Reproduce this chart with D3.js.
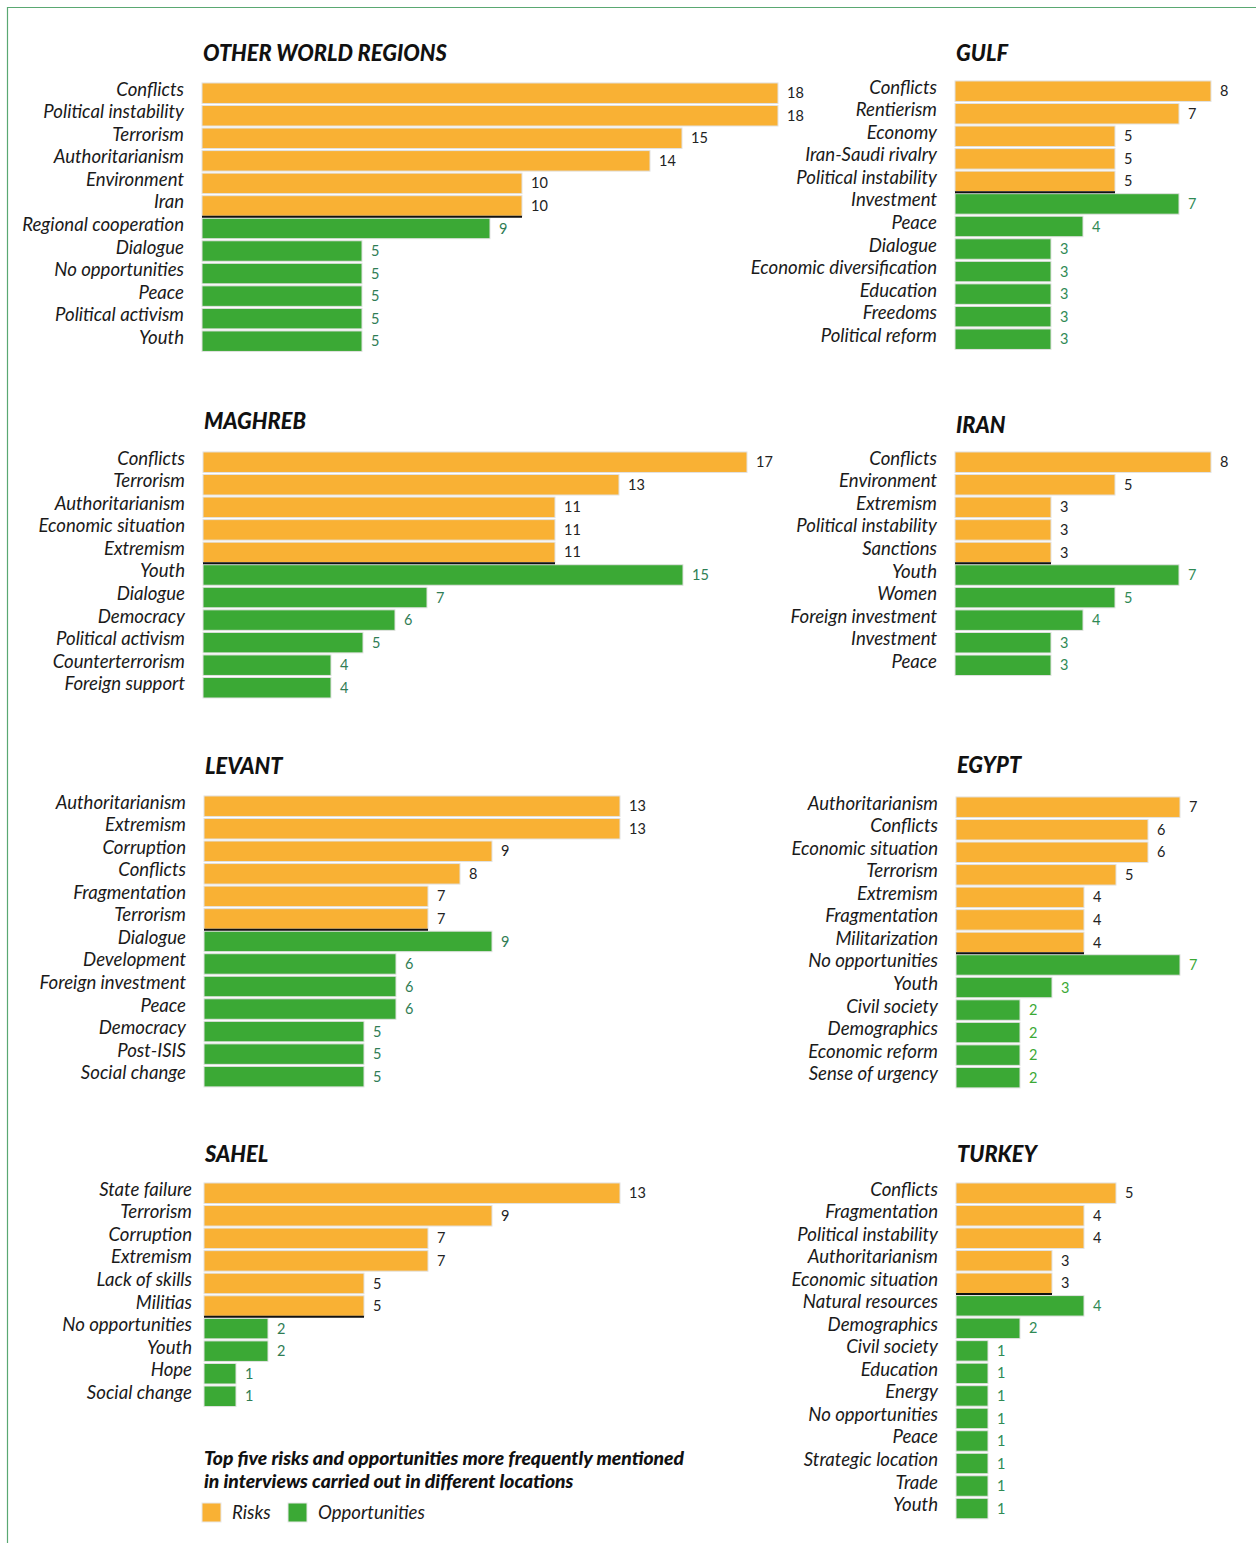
<!DOCTYPE html>
<html><head><meta charset="utf-8">
<script src="https://cdn.jsdelivr.net/npm/d3@7"></script>
<style>
html,body{margin:0;padding:0;background:#fff;}
svg{display:block;}
</style></head>
<body>
<script>
// ---------- DATA ----------
const owrRiskLabels = ["Conflicts","Political instability","Terrorism","Authoritarianism","Environment","Iran"];
const owrRiskValues = [18,18,15,14,10,10];
const owrOppLabels  = ["Regional cooperation","Dialogue","No opportunities","Peace","Political activism","Youth"];
const owrOppValues  = [9,5,5,5,5,5];

const gulfRiskLabels = ["Conflicts","Rentierism","Economy","Iran-Saudi rivalry","Political instability"];
const gulfRiskValues = [8,7,5,5,5];
const gulfOppLabels  = ["Investment","Peace","Dialogue","Economic diversification","Education","Freedoms","Political reform"];
const gulfOppValues  = [7,4,3,3,3,3,3];

const maghrebRiskLabels = ["Conflicts","Terrorism","Authoritarianism","Economic situation","Extremism"];
const maghrebRiskValues = [17,13,11,11,11];
const maghrebOppLabels  = ["Youth","Dialogue","Democracy","Political activism","Counterterrorism","Foreign support"];
const maghrebOppValues  = [15,7,6,5,4,4];

const iranRiskLabels = ["Conflicts","Environment","Extremism","Political instability","Sanctions"];
const iranRiskValues = [8,5,3,3,3];
const iranOppLabels  = ["Youth","Women","Foreign investment","Investment","Peace"];
const iranOppValues  = [7,5,4,3,3];

const levantRiskLabels = ["Authoritarianism","Extremism","Corruption","Conflicts","Fragmentation","Terrorism"];
const levantRiskValues = [13,13,9,8,7,7];
const levantOppLabels  = ["Dialogue","Development","Foreign investment","Peace","Democracy","Post-ISIS","Social change"];
const levantOppValues  = [9,6,6,6,5,5,5];

const egyptRiskLabels = ["Authoritarianism","Conflicts","Economic situation","Terrorism","Extremism","Fragmentation","Militarization"];
const egyptRiskValues = [7,6,6,5,4,4,4];
const egyptOppLabels  = ["No opportunities","Youth","Civil society","Demographics","Economic reform","Sense of urgency"];
const egyptOppValues  = [7,3,2,2,2,2];

const sahelRiskLabels = ["State failure","Terrorism","Corruption","Extremism","Lack of skills","Militias"];
const sahelRiskValues = [13,9,7,7,5,5];
const sahelOppLabels  = ["No opportunities","Youth","Hope","Social change"];
const sahelOppValues  = [2,2,1,1];

const turkeyRiskLabels = ["Conflicts","Fragmentation","Political instability","Authoritarianism","Economic situation"];
const turkeyRiskValues = [5,4,4,3,3];
const turkeyOppLabels  = ["Natural resources","Demographics","Civil society","Education","Energy","No opportunities","Peace","Strategic location","Trade","Youth"];
const turkeyOppValues  = [4,2,1,1,1,1,1,1,1,1];

const legendLabels = ["Risks","Opportunities"];
const captionLines = ["Top five risks and opportunities more frequently mentioned","in interviews carried out in different locations"];

// ---------- LAYOUT ----------
const W = 1256, H = 1543;
const ORANGE = "#f9b134", GREEN = "#3ba935";
const STEP = 22.45;
const FONT = "Lato, 'Open Sans', sans-serif";

const panels = [
  {title:"OTHER WORLD REGIONS", rl:owrRiskLabels, rv:owrRiskValues, ol:owrOppLabels, ov:owrOppValues, x0:202, top:82.5, titleY:61, labelGap:18, oc:"#2f7d55"},
  {title:"GULF", rl:gulfRiskLabels, rv:gulfRiskValues, ol:gulfOppLabels, ov:gulfOppValues, x0:955, top:80.5, titleY:61, labelGap:18, oc:"#2f8a55"},
  {title:"MAGHREB", rl:maghrebRiskLabels, rv:maghrebRiskValues, ol:maghrebOppLabels, ov:maghrebOppValues, x0:203, top:451.5, titleY:429, labelGap:18, oc:"#2f7d55"},
  {title:"IRAN", rl:iranRiskLabels, rv:iranRiskValues, ol:iranOppLabels, ov:iranOppValues, x0:955, top:451.5, titleY:433, labelGap:18, oc:"#2f8a55"},
  {title:"LEVANT", rl:levantRiskLabels, rv:levantRiskValues, ol:levantOppLabels, ov:levantOppValues, x0:204, top:795.5, titleY:774, labelGap:18, oc:"#2f7d55"},
  {title:"EGYPT", rl:egyptRiskLabels, rv:egyptRiskValues, ol:egyptOppLabels, ov:egyptOppValues, x0:956, top:796.5, titleY:773, labelGap:18, oc:"#3ba935"},
  {title:"SAHEL", rl:sahelRiskLabels, rv:sahelRiskValues, ol:sahelOppLabels, ov:sahelOppValues, x0:204, top:1182.5, titleY:1162, labelGap:12, oc:"#2f7d55"},
  {title:"TURKEY", rl:turkeyRiskLabels, rv:turkeyRiskValues, ol:turkeyOppLabels, ov:turkeyOppValues, x0:956, top:1182.5, titleY:1162, labelGap:18, oc:"#2f8a55"}
];

const svg = d3.select("body").append("svg").attr("width", W).attr("height", H);

// frame
svg.append("path").attr("d", `M7.5,${H} L7.5,7.5 L${W},7.5`)
  .attr("fill","none").attr("stroke","#5aa872").attr("stroke-width",1.2);

const x = d3.scaleLinear().domain([0, 18]).range([0, 576]);

panels.forEach(p => {
  const rows = p.rl.map((l,i)=>({label:l, value:p.rv[i], type:"risk"}))
    .concat(p.ol.map((l,i)=>({label:l, value:p.ov[i], type:"opp"})));
  const n = rows.length;
  const y = d3.scaleBand().domain(d3.range(n)).range([p.top, p.top + n*STEP]).paddingInner(0.09).paddingOuter(0.02);
  const g = svg.append("g");

  g.append("text").attr("x", p.x0 + 1).attr("y", p.titleY)
    .attr("font-family", FONT).attr("font-weight", 900).attr("font-style","italic")
    .attr("font-size", 21.8).attr("fill", "#111").text(p.title);

  g.selectAll("rect.bar").data(rows).join("rect")
    .attr("x", p.x0).attr("y", (d,i)=>y(i))
    .attr("width", d=>x(d.value)).attr("height", y.bandwidth())
    .attr("fill", d=>d.type==="risk"?ORANGE:GREEN)
    .attr("stroke", "#e2e2e2").attr("stroke-width", 1);

  // separator under last risk
  const li = p.rl.length - 1;
  g.append("line")
    .attr("x1", p.x0).attr("x2", p.x0 + x(p.rv[li]))
    .attr("y1", y(li) + y.bandwidth() + 0.5).attr("y2", y(li) + y.bandwidth() + 0.5)
    .attr("stroke", "#111").attr("stroke-width", 2);

  g.selectAll("text.lab").data(rows).join("text")
    .attr("x", p.x0 - p.labelGap).attr("y", (d,i)=>y(i) + y.bandwidth()/2 - 4)
    .attr("dy","0.35em").attr("text-anchor","end")
    .attr("font-family", FONT).attr("font-style","italic").attr("font-size", 18.6)
    .attr("fill","#1a1a1a").text(d=>d.label);

  g.selectAll("text.val").data(rows).join("text")
    .attr("x", d=>p.x0 + x(d.value) + 9).attr("y", (d,i)=>y(i) + y.bandwidth()/2)
    .attr("dy","0.35em")
    .attr("font-family", FONT).attr("font-size", 14.5)
    .attr("fill", d=>d.type==="risk"?"#222":p.oc).text(d=>d.value);
});

// caption
svg.selectAll("text.cap").data(captionLines).join("text")
  .attr("x", 204).attr("y", (d,i)=>1465 + i*23)
  .attr("font-family", FONT).attr("font-weight", 900).attr("font-style","italic")
  .attr("font-size", 19.3).attr("fill","#111").text(d=>d);

// legend
const legX = [202, 288];
const lg = svg.append("g");
lg.selectAll("rect").data(legendLabels).join("rect")
  .attr("x", (d,i)=>legX[i]).attr("y", 1503).attr("width", 19).attr("height", 19)
  .attr("fill", (d,i)=>i===0?ORANGE:GREEN).attr("stroke","#e8e8e8").attr("stroke-width",1);
lg.selectAll("text").data(legendLabels).join("text")
  .attr("x", (d,i)=>legX[i] + 30).attr("y", 1512).attr("dy","0.35em")
  .attr("font-family", FONT).attr("font-style","italic").attr("font-size", 18.6)
  .attr("fill","#1a1a1a").text(d=>d);
</script>
</body></html>
